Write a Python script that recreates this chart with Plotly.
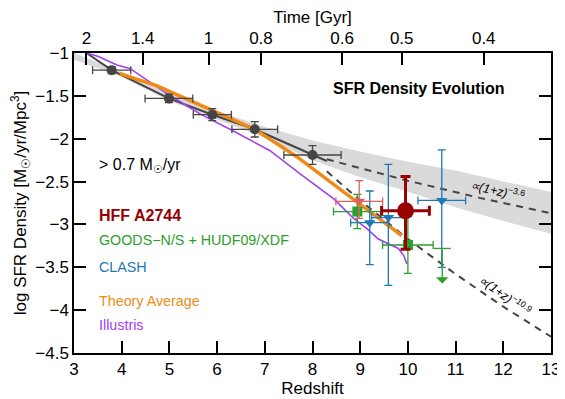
import plotly.graph_objects as go

# --- data ---
# gray points (SFR density, >0.7 Msun/yr)
gz = [3.79, 4.99, 5.90, 6.79, 8.00]
gy = [-1.20, -1.53, -1.72, -1.89, -2.19]
gzerr = [0.40, 0.50, 0.40, 0.48, 0.60]
gyerr = [0.04, 0.05, 0.07, 0.09, 0.11]

# gray connecting line
line_z = [3.26, 3.79, 4.99, 5.90, 6.79, 8.00, 8.30]
line_y = [-1.00, -1.20, -1.53, -1.72, -1.89, -2.19, -2.26]

# shaded band
band_z = [3, 4, 5, 6, 7, 8, 9, 10, 11, 12, 13]
band_hi = [-1.00, -1.22, -1.47, -1.68, -1.86, -2.02, -2.15, -2.27, -2.37, -2.50, -2.62]
band_lo = [-1.08, -1.28, -1.56, -1.78, -1.99, -2.25, -2.45, -2.62, -2.80, -2.96, -3.11]

# dashed power laws
p36_z = [8.30, 9.0, 10.0, 11.5, 13.0]
p36_y = [-2.24, -2.34, -2.49, -2.69, -2.87]
p109_z = [8.30, 9.0, 10.0, 11.0, 12.0, 13.0]
p109_y = [-2.38, -2.72, -3.17, -3.58, -3.96, -4.31]

# theory average
th_z = [3.96, 4.73, 5.78, 6.79, 7.67, 8.37, 8.79, 9.87]
th_y = [-1.24, -1.38, -1.64, -1.89, -2.21, -2.50, -2.68, -3.13]

# Illustris
il_z = [3.27, 3.51, 3.90, 4.17, 4.94, 5.64, 6.34, 7.11, 7.74, 7.99, 8.44, 8.86, 9.14, 9.38, 9.80, 9.91, 9.98]
il_y = [-1.00, -1.04, -1.14, -1.18, -1.47, -1.71, -1.91, -2.14, -2.41, -2.51, -2.70, -2.93, -3.05, -3.17, -3.28, -3.36, -3.46]

# HFF A2744
hff_z = [9.95]
hff_y = [-2.84]
hff_zerr = [0.50]
hff_up = [0.40]
hff_dn = [0.45]

# earlier HFF (light red)
lr_z = [8.98]
lr_y = [-2.73]
lr_zerr = [0.49]
lr_up = [0.24]
lr_dn = [0.20]

# GOODS-N/S + HUDF09/XDF
gd_z = [8.94, 10.00]
gd_y = [-2.85, -3.24]
gd_zerr = [0.50, 0.53]
gd_yerr = [0.20, 0.33]
gd_lim_z = [10.72]
gd_lim_y = [-3.28]
gd_lim_zerr = [0.18]
gd_lim_tip = [-3.69]

# CLASH
cl_z = [9.20, 9.59, 10.71]
cl_y = [-2.98, -2.92, -2.72]
cl_zerr = [0.40, 0.35, 0.50]
cl_up = [0.37, 0.62, 0.59]
cl_dn = [0.49, 0.79, 0.78]

# top axis: cosmic time labels and redshift positions
time_labels = ["2", "1.4", "1", "0.8", "0.6", "0.5", "0.4"]
time_z = [3.26, 4.44, 5.82, 6.92, 8.62, 9.87, 11.59]

GRAY = "#454545"
DRED = "#990000"
LRED = "#e46060"
GREEN = "#2ca02c"
BLUE = "#1f77b4"
ORANGE = "#ef8a17"
PURPLE = "#a040f5"
FONT = "Liberation Sans, Arial, sans-serif"

fig = go.Figure()

fig.add_trace(go.Scatter(x=band_z, y=band_hi, mode="lines", line=dict(width=0),
                         showlegend=False, hoverinfo="skip"))
fig.add_trace(go.Scatter(x=band_z, y=band_lo, mode="lines", line=dict(width=0),
                         fill="tonexty", fillcolor="#dadada", showlegend=False, hoverinfo="skip"))

fig.add_trace(go.Scatter(x=p36_z, y=p36_y, mode="lines",
                         line=dict(color=GRAY, width=2, dash="7px,6px"), showlegend=False))
fig.add_trace(go.Scatter(x=p109_z, y=p109_y, mode="lines",
                         line=dict(color=GRAY, width=2, dash="7px,6px"), showlegend=False))
fig.add_trace(go.Scatter(x=line_z, y=line_y, mode="lines",
                         line=dict(color=GRAY, width=2), showlegend=False))

fig.add_trace(go.Scatter(x=il_z, y=il_y, mode="lines",
                         line=dict(color=PURPLE, width=1.6), showlegend=False))
fig.add_trace(go.Scatter(x=th_z, y=th_y, mode="lines",
                         line=dict(color=ORANGE, width=3.5), showlegend=False))

fig.add_trace(go.Scatter(x=gz, y=gy, mode="markers",
                         marker=dict(color=GRAY, size=10),
                         error_x=dict(array=gzerr, color=GRAY, thickness=1.3, width=4),
                         error_y=dict(array=gyerr, color=GRAY, thickness=1.3, width=4),
                         showlegend=False))

# CLASH
fig.add_trace(go.Scatter(x=cl_z, y=cl_y, mode="markers",
                         marker=dict(color=BLUE, size=10, symbol="triangle-down"),
                         error_x=dict(array=cl_zerr, color=BLUE, thickness=1.3, width=4),
                         error_y=dict(type="data", symmetric=False, array=cl_up, arrayminus=cl_dn,
                                      color=BLUE, thickness=1.3, width=4),
                         showlegend=False))

# GOODS
fig.add_trace(go.Scatter(x=gd_z, y=gd_y, mode="markers",
                         marker=dict(color=GREEN, size=10, symbol="square"),
                         error_x=dict(array=gd_zerr, color=GREEN, thickness=1.3, width=4),
                         error_y=dict(array=gd_yerr, color=GREEN, thickness=1.3, width=4),
                         showlegend=False))
fig.add_trace(go.Scatter(x=gd_lim_z, y=gd_lim_y, mode="markers",
                         marker=dict(color=GREEN, size=1),
                         error_x=dict(array=gd_lim_zerr, color=GREEN, thickness=1.3, width=0),
                         showlegend=False))
for z0, y0, y1 in zip(gd_lim_z, gd_lim_y, gd_lim_tip):
    fig.add_annotation(x=z0, y=y1, ax=z0, ay=y0, xref="x", yref="y", axref="x", ayref="y",
                       showarrow=True, arrowhead=1, arrowsize=1.6, arrowwidth=1.3,
                       arrowcolor=GREEN, text="")

# earlier HFF
fig.add_trace(go.Scatter(x=lr_z, y=lr_y, mode="markers",
                         marker=dict(color=LRED, size=10, symbol="triangle-down"),
                         error_x=dict(array=lr_zerr, color=LRED, thickness=1.3, width=4),
                         error_y=dict(type="data", symmetric=False, array=lr_up, arrayminus=lr_dn,
                                      color=LRED, thickness=1.3, width=4),
                         showlegend=False))

# HFF A2744
fig.add_trace(go.Scatter(x=hff_z, y=hff_y, mode="markers",
                         marker=dict(color=DRED, size=17),
                         error_x=dict(array=hff_zerr, color=DRED, thickness=3, width=5),
                         error_y=dict(type="data", symmetric=False, array=hff_up, arrayminus=hff_dn,
                                      color=DRED, thickness=3, width=5),
                         showlegend=False))

# invisible trace to anchor the top axis
fig.add_trace(go.Scatter(x=time_z, y=[-1] * len(time_z), xaxis="x2", mode="markers",
                         marker=dict(opacity=0), showlegend=False, hoverinfo="skip"))

axis_common = dict(showline=True, linecolor="black", linewidth=1.5, ticks="inside",
                   ticklen=12, tickwidth=1.5, tickcolor="black", showgrid=False,
                   zeroline=False, automargin=False, tickfont=dict(size=17, color="black"))

# page body has an 8px margin, so the figure is 8px smaller and the margins shift
fig.update_layout(
    width=557, height=391,
    margin=dict(l=66, r=14, t=45, b=46),
    plot_bgcolor="white", paper_bgcolor="white",
    font=dict(family=FONT, color="black"),
    xaxis=dict(range=[3, 13], dtick=1, title=dict(text="Redshift", font=dict(size=17), standoff=2),
               **axis_common),
    xaxis2=dict(range=[3, 13], overlaying="x", side="top", tickmode="array",
                tickvals=time_z, ticktext=time_labels,
                title=dict(text="Time [Gyr]", font=dict(size=17), standoff=4), **axis_common),
    yaxis=dict(range=[-4.5, -1], dtick=0.5, mirror="ticks",
               title=dict(text="log SFR Density [M<sub>☉</sub>/yr/Mpc<sup>3</sup>]",
                          font=dict(size=17), standoff=6),
               **axis_common),
)

labels = [
    ("> 0.7 M<sub>☉</sub>/yr", 0.048, 0.624, 16, "black", False),
    ("HFF A2744", 0.048, 0.458, 16, DRED, True),
    ("GOODS−N/S + HUDF09/XDF", 0.048, 0.377, 14.3, GREEN, False),
    ("CLASH", 0.048, 0.288, 14.3, BLUE, False),
    ("Theory Average", 0.048, 0.173, 14.3, ORANGE, False),
    ("Illustris", 0.048, 0.095, 14.3, PURPLE, False),
]
for txt, x, y, sz, col, bold in labels:
    fig.add_annotation(x=x, y=y, xref="paper", yref="paper", xanchor="left", yanchor="middle",
                       text=f"<b>{txt}</b>" if bold else txt, showarrow=False,
                       font=dict(size=sz, color=col))

fig.add_annotation(x=0.907, y=0.882, xref="paper", yref="paper", xanchor="right", yanchor="middle",
                   text="<b>SFR Density Evolution</b>", showarrow=False, font=dict(size=16))
fig.add_annotation(x=0.887, y=0.543, xref="paper", yref="paper", textangle=13,
                   xanchor="center", yanchor="middle",
                   text="<i>∝(1+z)</i><sup>−3.6</sup>", showarrow=False, font=dict(size=12.5))
fig.add_annotation(x=0.904, y=0.193, xref="paper", yref="paper", textangle=36,
                   xanchor="center", yanchor="middle",
                   text="<i>∝(1+z)</i><sup>−10.9</sup>", showarrow=False, font=dict(size=12.5))

fig.write_html("out.html")
